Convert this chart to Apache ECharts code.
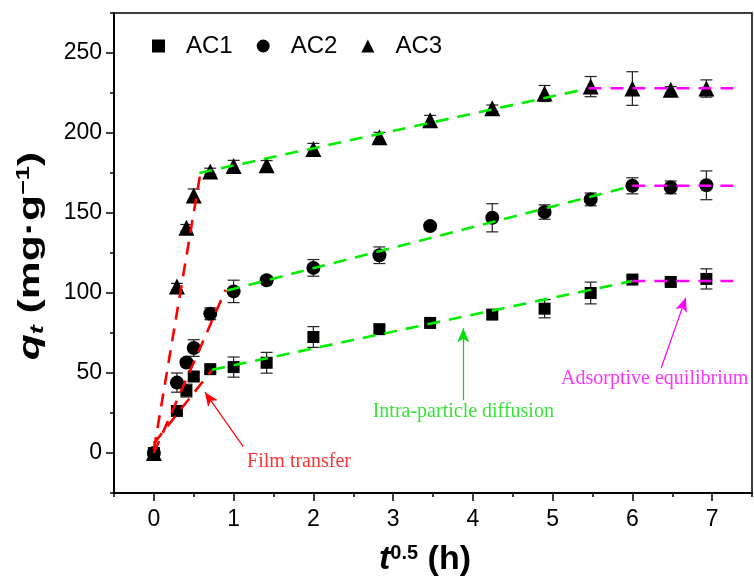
<!DOCTYPE html>
<html>
<head>
<meta charset="utf-8">
<script src="https://cdn.jsdelivr.net/npm/echarts@6/dist/echarts.min.js"></script>
<style>html,body{margin:0;padding:0;background:#fff}#chart{width:754px;height:579px}</style>
</head>
<body>
<div id="chart"></div>
<script>
// ---- data ----
const tSqrt = [0, 0.289, 0.408, 0.5, 0.707, 1, 1.414, 2, 2.828, 3.464, 4.243, 4.899, 5.477, 6, 6.481, 6.928];
const ac1 = [0, 26.3, 39, 47.8, 52.4, 53.7, 56.4, 72.5, 77.4, 81.3, 86.5, 90.2, 100, 108.4, 106.9, 108.8];
const ac1Err = [1, 2, 4, 2, 2, 6.3, 6.5, 6.5, 2, 1.5, 2.5, 5.7, 6.8, 1.5, 1.5, 6.3];
const ac2 = [0, 44, 56.6, 65.6, 87, 101, 108, 115.7, 123.6, 141.8, 147, 150.6, 158.5, 167, 166, 167.3];
const ac2Err = [1, 6, 2, 5.2, 3.7, 7, 2, 5.2, 5.2, 2, 8.8, 4.5, 4, 5, 4, 9];
const ac3 = [0, 104, 140.8, 161, 176, 179.4, 179.8, 190, 197.4, 208, 215.5, 224.7, 229, 227.8, 227, 227.8];
const ac3Err = [1, 2, 2, 4, 2, 3.5, 3, 3.5, 3, 3, 2, 5, 6.3, 10.5, 2, 5.4];

// fitted segments [x0, y0, x1, y1]
const filmFits = [[0, 6, 0.73, 52], [0, 0, 0.9, 102], [0, 2, 0.58, 174]];
const intraFits = [[0.73, 52, 6, 107.5], [0.92, 101.5, 6, 167], [0.57, 175, 5.42, 227.5]];
const equilFits = [[6, 107.5, 7.33, 107.5], [6, 167, 7.33, 167], [5.45, 228, 7.3, 228]];

// annotations
const annTexts = [
  {text: 'Film transfer', x: 1.82, y: -5.5, color: '#ff0000'},
  {text: 'Intra-particle diffusion', x: 3.88, y: 25.5, color: '#00dd00'},
  {text: 'Adsorptive equilibrium', x: 6.28, y: 46.5, color: '#ff00ff'}
];
const annArrows = [
  {from: [1.12, 4], to: [0.64, 38], color: '#ff0000'},
  {from: [3.88, 33], to: [3.88, 78], color: '#00dd00'},
  {from: [6.36, 53], to: [6.67, 97], color: '#ff00ff'}
];

const xMajor = [0, 1, 2, 3, 4, 5, 6, 7];
const xMinor = [-0.5, 0.5, 1.5, 2.5, 3.5, 4.5, 5.5, 6.5, 7.5];
const yMajor = [0, 50, 100, 150, 200, 250];
const yMinor = [-25, 25, 75, 125, 175, 225, 275];

const seriesNames = ['AC1', 'AC2', 'AC3'];
const symbols = ['rect', 'circle', 'triangle'];
const symbolSizes = [12, 14, 16];
const values = [ac1, ac2, ac3];
const errs = [ac1Err, ac2Err, ac3Err];

const FONT = 'Liberation Sans';
const chart = echarts.init(document.getElementById('chart'), null, {renderer: 'canvas'});

function errSeries(vals, err) {
  return {
    type: 'custom',
    xAxisIndex: 0, yAxisIndex: 0,
    silent: true,
    z: 2,
    data: tSqrt.map((x, i) => [x, vals[i] - err[i], vals[i] + err[i]]),
    renderItem: function (params, api) {
      const lo = api.coord([api.value(0), api.value(1)]);
      const hi = api.coord([api.value(0), api.value(2)]);
      const w = 6;
      const st = {stroke: '#222', lineWidth: 1.2};
      return {
        type: 'group',
        children: [
          {type: 'line', shape: {x1: lo[0], y1: lo[1], x2: hi[0], y2: hi[1]}, style: st},
          {type: 'line', shape: {x1: lo[0] - w, y1: lo[1], x2: lo[0] + w, y2: lo[1]}, style: st},
          {type: 'line', shape: {x1: hi[0] - w, y1: hi[1], x2: hi[0] + w, y2: hi[1]}, style: st}
        ]
      };
    }
  };
}

function fitSeries(seg, color) {
  return {
    type: 'line',
    xAxisIndex: 0, yAxisIndex: 0,
    silent: true,
    z: 5,
    symbol: 'none',
    data: [[seg[0], seg[1]], [seg[2], seg[3]]],
    lineStyle: {color: color, width: 2.6, type: [13, 9]}
  };
}

const series = [];
for (let k = 0; k < 3; k++) series.push(errSeries(values[k], errs[k]));
for (let k = 0; k < 3; k++) {
  series.push({
    name: seriesNames[k],
    type: 'scatter',
    xAxisIndex: 0, yAxisIndex: 0,
    symbol: symbols[k],
    symbolSize: symbolSizes[k],
    itemStyle: {color: '#000', opacity: 1},
    z: 3,
    data: tSqrt.map((x, i) => [x, values[k][i]])
  });
}
filmFits.forEach(s => series.push(fitSeries(s, '#ff0000')));
intraFits.forEach(s => series.push(fitSeries(s, '#00ee00')));
equilFits.forEach(s => series.push(fitSeries(s, '#ff00ff')));

// annotation texts
series.push({
  type: 'scatter',
  xAxisIndex: 0, yAxisIndex: 0,
  silent: true,
  symbolSize: 0,
  z: 6,
  data: annTexts.map(a => ({
    value: [a.x, a.y],
    label: {show: true, position: 'inside', formatter: a.text, color: a.color,
      fontFamily: 'Liberation Serif', fontSize: 20}
  }))
});
// annotation arrows
series.push({
  type: 'line',
  xAxisIndex: 0, yAxisIndex: 0,
  silent: true,
  data: [],
  markLine: {
    silent: true,
    symbol: ['none', 'arrow'],
    symbolSize: [9, 14],
    label: {show: false},
    animation: false,
    data: annArrows.map(a => [
      {coord: a.from, lineStyle: {color: a.color, width: 1.2, type: 'solid'}},
      {coord: a.to}
    ])
  }
});

const option = {
  animation: false,
  backgroundColor: '#fff',
  grid: {left: 114, right: 2, top: 13, bottom: 86, show: true, borderColor: '#000', borderWidth: 1.5,
    containLabel: false, outerBoundsMode: 'none'},
  legend: {
    data: seriesNames.map((n, i) => ({name: n, icon: symbols[i]})),
    left: 147, top: 29,
    itemWidth: 13, itemHeight: 13, itemGap: 24,
    textStyle: {fontFamily: FONT, fontSize: 24, color: '#000', padding: [0, 0, 0, 16]}
  },
  graphic: [{
    type: 'text',
    x: 31, y: 256,
    rotation: Math.PI / 2,
    scaleX: 1.42,
    silent: true,
    style: {
      text: '{q|q}{t|t}{b| (mg·g}{sup|−1}{b|)}',
      align: 'center', verticalAlign: 'middle',
      rich: {
        q: {fontFamily: FONT, fontSize: 30, fontWeight: 'bold', fontStyle: 'italic', fill: '#000'},
        t: {fontFamily: FONT, fontSize: 19, fontWeight: 'bold', fontStyle: 'italic', fill: '#000', verticalAlign: 'bottom', padding: [12, 0, 0, 0]},
        b: {fontFamily: FONT, fontSize: 30, fontWeight: 'bold', fill: '#000'},
        sup: {fontFamily: FONT, fontSize: 18, fontWeight: 'bold', fill: '#000', verticalAlign: 'top', padding: [0, 0, 14, 0]}
      }
    }
  }],
  xAxis: [
    {
      type: 'value', min: -0.5, max: 7.5,
      position: 'bottom',
      axisLine: {show: true, onZero: false, lineStyle: {color: '#000', width: 2}},
      axisTick: {show: true, inside: false, length: 8, customValues: xMajor, lineStyle: {color: '#000', width: 1.5}},
      axisLabel: {show: true, customValues: xMajor, margin: 15, fontFamily: FONT, fontSize: 23, color: '#000'},
      splitLine: {show: false},
      name: '{i|t}{sup|0.5}{b| (h)}',
      nameLocation: 'middle', nameGap: 50,
      nameTextStyle: {
        padding: [0, 16, 0, 0],
        rich: {
          i: {fontFamily: FONT, fontSize: 34, fontWeight: 'bold', fontStyle: 'italic', color: '#000'},
          sup: {fontFamily: FONT, fontSize: 20, fontWeight: 'bold', color: '#000', verticalAlign: 'top', padding: [0, 0, 14, 0]},
          b: {fontFamily: FONT, fontSize: 34, fontWeight: 'bold', color: '#000'}
        }
      }
    },
    {
      type: 'value', min: -0.5, max: 7.5, position: 'bottom',
      axisLine: {show: false, onZero: false},
      axisTick: {show: true, inside: false, length: 4, customValues: xMinor, lineStyle: {color: '#000', width: 1.5}},
      axisLabel: {show: false},
      splitLine: {show: false}
    }
  ],
  yAxis: [
    {
      type: 'value', min: -25, max: 275,
      position: 'left',
      axisLine: {show: true, onZero: false, lineStyle: {color: '#000', width: 2}},
      axisTick: {show: true, inside: false, length: 8, customValues: yMajor, lineStyle: {color: '#000', width: 1.5}},
      axisLabel: {show: true, customValues: yMajor, margin: 12, fontFamily: FONT, fontSize: 23, color: '#000'},
      splitLine: {show: false}
    },
    {
      type: 'value', min: -25, max: 275, position: 'left',
      axisLine: {show: false, onZero: false},
      axisTick: {show: true, inside: false, length: 4, customValues: yMinor, lineStyle: {color: '#000', width: 1.5}},
      axisLabel: {show: false},
      splitLine: {show: false}
    }
  ],
  series: series
};
chart.setOption(option);
</script>
</body>
</html>
